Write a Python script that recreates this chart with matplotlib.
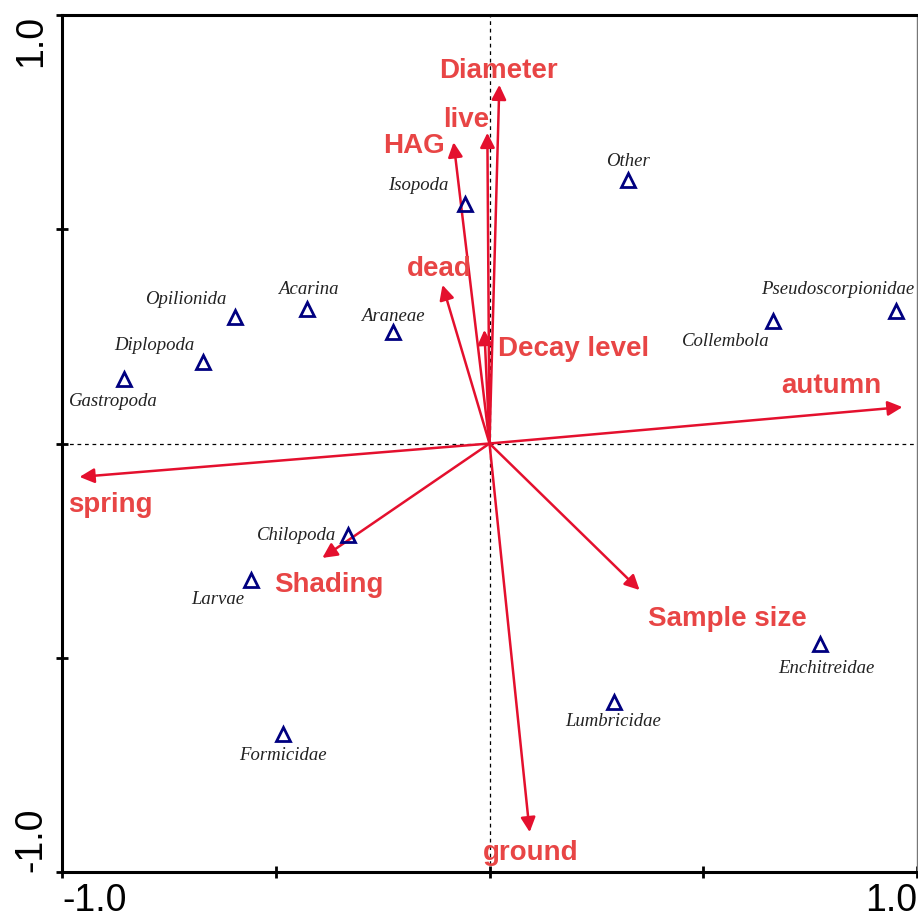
import matplotlib.pyplot as plt

# species scores (triangles)
species = ['Other', 'Isopoda', 'Pseudoscorpionidae', 'Collembola', 'Opilionida',
           'Acarina', 'Araneae', 'Diplopoda', 'Gastropoda', 'Chilopoda',
           'Larvae', 'Formicidae', 'Lumbricidae', 'Enchitreidae']
sp_x = [0.323, -0.058, 0.950, 0.662, -0.596, -0.428, -0.225, -0.671, -0.856,
        -0.330, -0.557, -0.484, 0.292, 0.774]
sp_y = [0.615, 0.559, 0.309, 0.286, 0.295, 0.314, 0.260, 0.190, 0.151,
        -0.214, -0.319, -0.678, -0.603, -0.468]

# environmental variables (arrows)
env = ['Diameter', 'live', 'HAG', 'dead', 'Decay level', 'autumn', 'spring',
       'Shading', 'Sample size', 'ground']
env_x = [0.023, -0.005, -0.084, -0.110, -0.012, 0.966, -0.959, -0.391, 0.351, 0.094]
env_y = [0.837, 0.725, 0.703, 0.370, 0.265, 0.085, -0.078, -0.267, -0.342, -0.907]

# label offsets in pixels (dx, dy) from the point / arrow tip
sp_off = {'Other': (0, 18), 'Isopoda': (-46, 18), 'Pseudoscorpionidae': (-58, 22),
          'Collembola': (-47, -21), 'Opilionida': (-49, 18), 'Acarina': (2, 19),
          'Araneae': (0, 16), 'Diplopoda': (-48, 17), 'Gastropoda': (-10, -23),
          'Chilopoda': (-52, 0), 'Larvae': (-34, -19), 'Formicidae': (0, -21),
          'Lumbricidae': (-1, -20), 'Enchitreidae': (6, -24)}
env_off = {'Diameter': (-1, 14), 'live': (-21, 13), 'HAG': (-40, -4),
           'dead': (-3, 16), 'Decay level': (89, -19), 'autumn': (-71, 21),
           'spring': (31, -28), 'Shading': (6, -27), 'Sample size': (88, -29),
           'ground': (1, -21)}

arrow_col = '#e4102e'
label_col = '#e84545'

fig = plt.figure(figsize=(9.18, 9.19), dpi=100)
ax = fig.add_axes([62 / 918, 47 / 919, 855 / 918, 857 / 919])
ax.set_xlim(-1, 1)
ax.set_ylim(-1, 1)

ax.axhline(0, color='black', lw=0.9, ls=(0, (3, 3)), zorder=1)
ax.axvline(0, color='black', lw=0.9, ls=(0, (3, 3)), zorder=1)

for name, x, y in zip(env, env_x, env_y):
    ax.annotate('', xy=(x, y), xytext=(0, 0),
                arrowprops=dict(arrowstyle='-|>', color=arrow_col, lw=1.8,
                                mutation_scale=22, shrinkA=0, shrinkB=0),
                zorder=3)
    dx, dy = env_off[name]
    ax.annotate(name, xy=(x, y), xytext=(dx * 0.72, dy * 0.72),
                textcoords='offset points', ha='center', va='center',
                color=label_col, fontsize=20, fontweight='bold',
                family='Liberation Sans', zorder=4)

ax.plot(sp_x, sp_y, ls='none', marker='^', ms=9.5, mfc='none', mec='#000080',
        mew=2, zorder=5)
for name, x, y in zip(species, sp_x, sp_y):
    dx, dy = sp_off[name]
    ax.annotate(name, xy=(x, y), xytext=(dx * 0.72, dy * 0.72),
                textcoords='offset points', ha='center', va='center',
                color='#222222', fontsize=13.5, style='italic',
                family='Liberation Serif', zorder=6)

# frame: heavy left/bottom/top, thin grey right
for side in ['left', 'bottom', 'top']:
    ax.spines[side].set_linewidth(2.2)
    ax.spines[side].set_color('black')
ax.spines['right'].set_linewidth(1)
ax.spines['right'].set_color('#777777')

ax.set_xticks([-1, -0.5, 0, 0.5, 1])
ax.set_yticks([-1, -0.5, 0, 0.5, 1])
ax.set_xticklabels(['-1.0', '', '', '', '1.0'])
ax.set_yticklabels(['-1.0', '', '', '', '1.0'], rotation=90)
ax.tick_params(direction='inout', length=8, width=2, labelsize=27)
ax.tick_params(axis='x', pad=4)
ax.tick_params(axis='y', pad=5)
xl = ax.get_xticklabels()
xl[0].set_ha('left')
xl[-1].set_ha('right')
yl = ax.get_yticklabels()
yl[0].set_va('bottom')
yl[-1].set_va('top')
for t in xl + yl:
    t.set_family('Liberation Sans')

fig.savefig('out.png', dpi=100, facecolor='white')
